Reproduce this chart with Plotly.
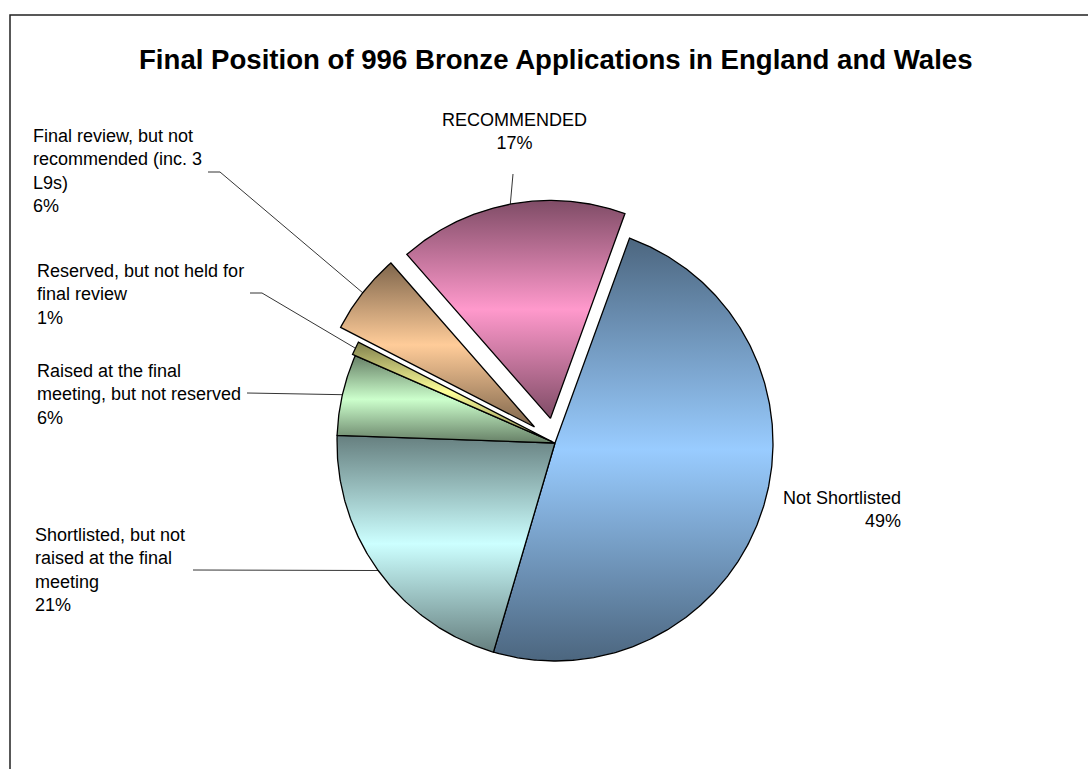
import textwrap
import numpy as np
import plotly.graph_objects as go

# ---- data ----------------------------------------------------------------
categories = [
    "Not Shortlisted",
    "Shortlisted, but not raised at the final meeting",
    "Raised at the final meeting, but not reserved",
    "Reserved, but not held for final review",
    "Final review, but not recommended (inc. 3 L9s)",
    "RECOMMENDED",
]
shares = [49, 21, 6, 1, 6, 17]  # percent of 996 applications
title_text = "Final Position of 996 Bronze Applications in England and Wales"

# ---- style ---------------------------------------------------------------
W, H = 1088, 769
CX, CY, R = 555, 443, 218          # pie centre / radius (px)
START_DEG = 20                     # first slice starts 20 deg clockwise of 12 o'clock
explode = [0, 0, 0, 3, 26, 25]     # px each slice is pulled out
light = ["#99CCFF", "#CCFFFF", "#CCFFCC", "#FFFF99", "#FFCC99", "#FF99CC"]
FONT = "Liberation Sans, Arial, Helvetica, sans-serif"
LABEL_SIZE = 18

# label placement: anchor point, alignment, wrap width, leader-line start points
label_cfg = [
    dict(x=903, y=509, xanchor="right", wrap=30, lead=None),
    dict(x=33, y=570, xanchor="left", wrap=20, lead=[(193, 570)]),
    dict(x=35, y=394, xanchor="left", wrap=25, lead=[(247, 393)]),
    dict(x=35, y=294, xanchor="left", wrap=26, lead=[(250, 293), (262, 293)]),
    dict(x=31, y=171, xanchor="left", wrap=21, lead=[(208, 172), (220, 172)]),
    dict(x=514, y=131, xanchor="center", wrap=30, lead=[(513, 174)]),
]


def darker(hex_color, f=0.5):
    h = hex_color.lstrip("#")
    r, g, b = (int(h[i:i + 2], 16) for i in (0, 2, 4))
    return "#%02X%02X%02X" % (int(r * f), int(g * f), int(b * f))


def polar(cx, cy, r, deg):
    t = np.radians(deg)
    return cx + r * np.sin(t), cy - r * np.cos(t)


fig = go.Figure()

total = float(sum(shares))
angle = START_DEG
for i, (name, v) in enumerate(zip(categories, shares)):
    span = 360.0 * v / total
    a0, a1 = angle, angle + span
    mid = (a0 + a1) / 2
    ox, oy = polar(0, 0, explode[i], mid)
    sx, sy = CX + ox, CY + oy
    arc = np.linspace(a0, a1, max(8, int(span * 2)))
    ax, ay = polar(sx, sy, R, arc)
    xs = np.concatenate([[sx], ax, [sx]])
    ys = np.concatenate([[sy], ay, [sy]])
    dark = darker(light[i])
    fig.add_trace(go.Scatter(
        x=xs, y=ys, mode="lines", fill="toself",
        line=dict(color="#000000", width=1.3),
        fillgradient=dict(type="vertical",
                          colorscale=[[0, dark], [0.5, light[i]], [1, dark]]),
        hoverinfo="text", text=f"{name}: {v}%", showlegend=False,
    ))

    cfg = label_cfg[i]
    lines = textwrap.wrap(name, cfg["wrap"]) + [f"{v}%"]
    fig.add_annotation(
        x=cfg["x"], y=cfg["y"], xref="x", yref="y",
        text="<br>".join(lines), showarrow=False,
        xanchor=cfg["xanchor"], yanchor="middle", align=cfg["xanchor"] if cfg["xanchor"] != "center" else "center",
        font=dict(family=FONT, size=LABEL_SIZE, color="#000000"),
    )

    if cfg["lead"]:
        ex, ey = polar(sx, sy, R, mid)
        px = [p[0] for p in cfg["lead"]] + [ex]
        py = [p[1] for p in cfg["lead"]] + [ey]
        fig.add_trace(go.Scatter(
            x=px, y=py, mode="lines", line=dict(color="#000000", width=0.8),
            hoverinfo="skip", showlegend=False,
        ))
    angle = a1

fig.add_annotation(
    x=556, y=59, xref="x", yref="y", text=f"<b>{title_text}</b>",
    showarrow=False, xanchor="center", yanchor="middle",
    font=dict(family=FONT, size=27.6, color="#000000"),
)

# chart-area frame
fig.add_shape(type="rect", xref="x", yref="y", x0=10, y0=15, x1=W + 50, y1=H + 50,
              line=dict(color="#222222", width=1.5), layer="below")

fig.update_layout(
    width=W, height=H,
    margin=dict(l=0, r=0, t=0, b=0),
    paper_bgcolor="#FFFFFF", plot_bgcolor="#FFFFFF",
    xaxis=dict(range=[0, W], visible=False, fixedrange=True),
    yaxis=dict(range=[H, 0], visible=False, fixedrange=True),
    showlegend=False,
)

fig.write_html("out.html", config={"displayModeBar": False})
